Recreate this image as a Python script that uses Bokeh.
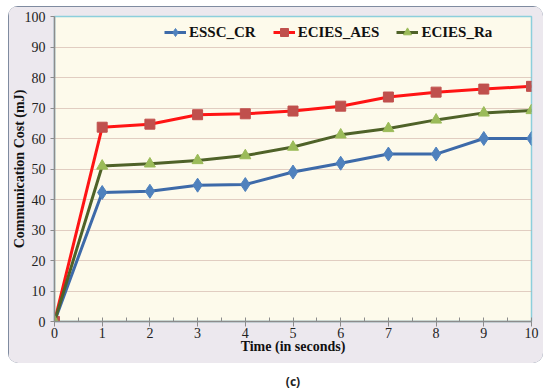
from bokeh.plotting import figure
from bokeh.models import SingleIntervalTicker, Legend, LegendItem, Range1d, Label
from bokeh.layouts import column
from bokeh.embed import file_html
from bokeh.resources import INLINE

time_s = [0, 1, 2, 3, 4, 5, 6, 7, 8, 9, 10]
essc_cr = [0, 42.3, 42.7, 44.7, 44.9, 49.0, 51.9, 54.9, 54.9, 60.0, 60.0]
ecies_aes = [0, 63.7, 64.7, 67.8, 68.1, 69.0, 70.6, 73.6, 75.2, 76.2, 77.1]
ecies_ra = [0, 51.0, 51.7, 52.8, 54.4, 57.2, 61.2, 63.3, 66.1, 68.4, 69.2]
series_names = ["ESSC_CR", "ECIES_AES", "ECIES_Ra"]
x_label = "Time (in seconds)"
y_label = "Communication Cost (mJ)"
caption = "(c)"

SERIF = "Liberation Serif"

p = figure(width=535, height=357, x_range=Range1d(0, 10), y_range=Range1d(0, 100),
           output_backend="svg", toolbar_location=None,
           min_border_left=45, min_border_right=12, min_border_top=10, min_border_bottom=42,
           background_fill_color="#fdfaeb", border_fill_color="#ece8ee")
p.styles = {"border-radius": "10px", "outline": "2px solid #5b6d86",
            "outline-offset": "-2px", "overflow": "hidden"}
p.outline_line_color = "#8ccfdc"
p.outline_line_width = 1.5

p.xgrid.grid_line_color = None
p.ygrid.grid_line_color = "#c4a096"
p.ygrid.grid_line_dash = "1 1"
p.ygrid.grid_line_width = 1

p.xaxis.ticker = SingleIntervalTicker(interval=1, num_minor_ticks=2)
p.yaxis.ticker = SingleIntervalTicker(interval=10, num_minor_ticks=0)
for ax in (p.xaxis, p.yaxis):
    ax.axis_line_color = "#8c8c8c"
    ax.axis_line_width = 1.5
    ax.major_tick_line_color = "#8c8c8c"
    ax.major_tick_in = 0
    ax.major_tick_out = 5
    ax.major_label_text_font = SERIF
    ax.major_label_text_font_size = "14px"
    ax.major_label_text_color = "#222222"
    ax.axis_label_text_font = SERIF
    ax.axis_label_text_font_style = "bold"
    ax.axis_label_text_font_size = "14px"
    ax.axis_label_text_color = "#111111"
p.xaxis.minor_tick_line_color = "#8c8c8c"
p.xaxis.minor_tick_in = 4
p.xaxis.minor_tick_out = 0
p.yaxis.minor_tick_line_color = None
p.yaxis.major_tick_out = 4
p.xaxis.major_label_standoff = 1
p.yaxis.major_label_standoff = 5
p.xaxis.axis_label_standoff = -2
p.yaxis.axis_label_standoff = -5
p.xaxis.axis_label = x_label
p.yaxis.axis_label = y_label

r1l = p.line(time_s, essc_cr, line_color="#3d6aa9", line_width=3)
r1m = p.scatter(time_s, essc_cr, marker="diamond", size=14,
                fill_color="#4f81bd", line_color="#4f81bd")
r2l = p.line(time_s, ecies_aes, line_color="#ff1414", line_width=3)
r2m = p.scatter(time_s, ecies_aes, marker="square", size=10,
                fill_color="#c0504d", line_color="#c0504d")
r3l = p.line(time_s, ecies_ra, line_color="#4f6228", line_width=3)
r3m = p.scatter(time_s, ecies_ra, marker="triangle", size=11,
                fill_color="#9bbb59", line_color="#9bbb59")

legend = Legend(items=[LegendItem(label=series_names[0], renderers=[r1l, r1m]),
                       LegendItem(label=series_names[1], renderers=[r2l, r2m]),
                       LegendItem(label=series_names[2], renderers=[r3l, r3m])],
                orientation="horizontal", location=(110, 279), padding=0, margin=0,
                spacing=17, glyph_width=22, glyph_height=20, label_height=20,
                label_standoff=3, background_fill_alpha=0, border_line_color=None,
                label_text_font=SERIF, label_text_font_style="bold",
                label_text_font_size="15px", label_text_color="#111111")
p.add_layout(legend)

cap = figure(width=535, height=28, x_range=Range1d(0, 1), y_range=Range1d(0, 1),
             output_backend="svg", toolbar_location=None, min_border=0,
             outline_line_color=None, border_fill_color="white",
             background_fill_color="white")
cap.axis.visible = False
cap.grid.grid_line_color = None
cap.add_layout(Label(x=0.5, y=0.36, text=caption, text_align="center",
                     text_baseline="middle", text_font="Noto Sans",
                     text_font_style="bold", text_font_size="12px",
                     text_color="#222222"))

layout = column(p, cap, spacing=0)
layout.margin = (6, 0, 0, 8)
open("out.html", "w").write(file_html(layout, INLINE))
